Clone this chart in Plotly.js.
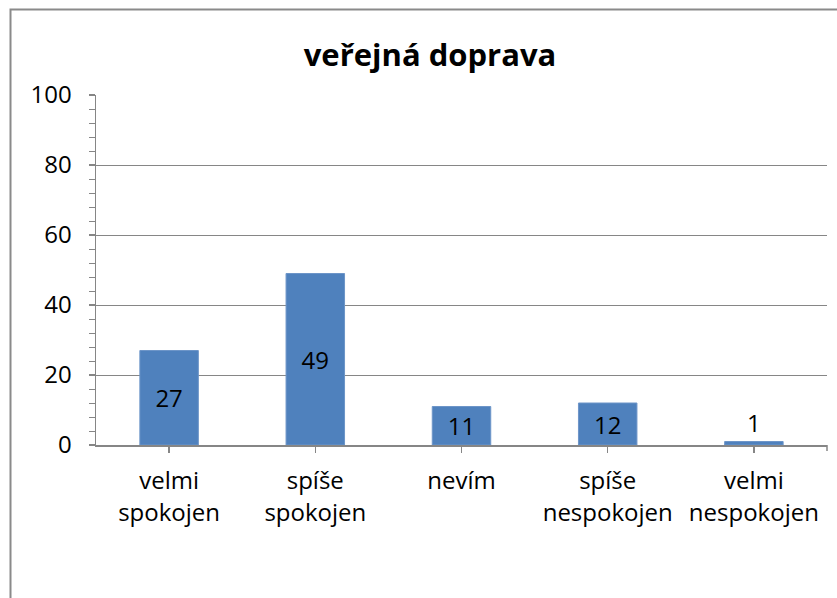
<!DOCTYPE html>
<html>
<head>
<meta charset="utf-8">
<script src="https://cdn.plot.ly/plotly-3.0.1.min.js"></script>
<style>
html,body{margin:0;padding:0;background:#fff;}
#chart{width:837px;height:598px;}
</style>
</head>
<body>
<div id="chart"></div>
<script>
var categories = ["velmi<br>spokojen", "spíše<br>spokojen", "nevím", "spíše<br>nespokojen", "velmi<br>nespokojen"];
var values = [27, 49, 11, 12, 1];
var titleText = "veřejná doprava";

var W = 837, H = 598;
var mL = 96, mR = 10, mT = 95, mB = 153;
var pw = W - mL - mR, ph = H - mT - mB;
function px2x(p){ return (p - mL) / pw; }
function px2y(p){ return (H - mB - p) / ph; }

var FONT = '"Open Sans", sans-serif';
var FS = 24;

var trace = {
  type: 'bar',
  x: categories,
  y: values,
  text: values.map(String),
  textposition: ['inside','inside','inside','inside','outside'],
  insidetextanchor: 'middle',
  textangle: 0,
  constraintext: 'none',
  cliponaxis: false,
  textfont: {family: FONT, size: FS, color: '#000'},
  insidetextfont: {family: FONT, size: FS, color: '#000'},
  outsidetextfont: {family: FONT, size: FS, color: '#000'},
  marker: {color: '#4F81BD', line: {color: '#6d95c8', width: 1}},
  hoverinfo: 'none'
};

var layout = {
  width: W, height: H,
  margin: {l: mL, r: mR, t: mT, b: mB},
  paper_bgcolor: '#fff', plot_bgcolor: '#fff',
  showlegend: false,
  bargap: 0.6,
  font: {family: FONT, size: FS, color: '#000'},
  title: {
    text: '<b>' + titleText + '</b>',
    font: {family: FONT, size: 31, color: '#000'},
    x: 430 / W, xanchor: 'center', xref: 'container',
    y: 1 - 55 / H, yanchor: 'middle', yref: 'container'
  },
  xaxis: {
    type: 'category',
    showline: true, linecolor: '#868686', linewidth: 1.5,
    ticks: 'outside', ticklen: 6, tickcolor: '#868686', tickwidth: 1.5,
    ticklabelstandoff: 8,
    tickfont: {family: FONT, size: FS, color: '#000'},
    showgrid: false, zeroline: false, fixedrange: true
  },
  yaxis: {
    range: [0, 100], dtick: 20, tick0: 0,
    showline: true, linecolor: '#868686', linewidth: 1.5,
    ticks: 'outside', ticklen: 6, tickcolor: '#868686', tickwidth: 1.5,
    ticklabelstandoff: 12,
    minor: {dtick: 4, ticks: 'outside', ticklen: 6, tickcolor: '#868686', tickwidth: 1, showgrid: false},
    showgrid: true, gridcolor: '#868686', gridwidth: 1,
    zeroline: false,
    tickfont: {family: FONT, size: FS, color: '#000'},
    fixedrange: true
  },
  shapes: [
    {type: 'rect', xref: 'paper', yref: 'paper',
     x0: px2x(10.5), x1: px2x(860), y0: px2y(620), y1: px2y(9.5),
     line: {color: '#8a8a8a', width: 2}, fillcolor: 'rgba(0,0,0,0)', layer: 'below'},
    {type: 'line', xref: 'paper', yref: 'paper',
     x0: 1, x1: 1, y0: 0, y1: -6 / ph,
     line: {color: '#868686', width: 1.5}}
  ]
};

Plotly.newPlot('chart', [trace], layout, {staticPlot: true, displayModeBar: false});
</script>
</body>
</html>
